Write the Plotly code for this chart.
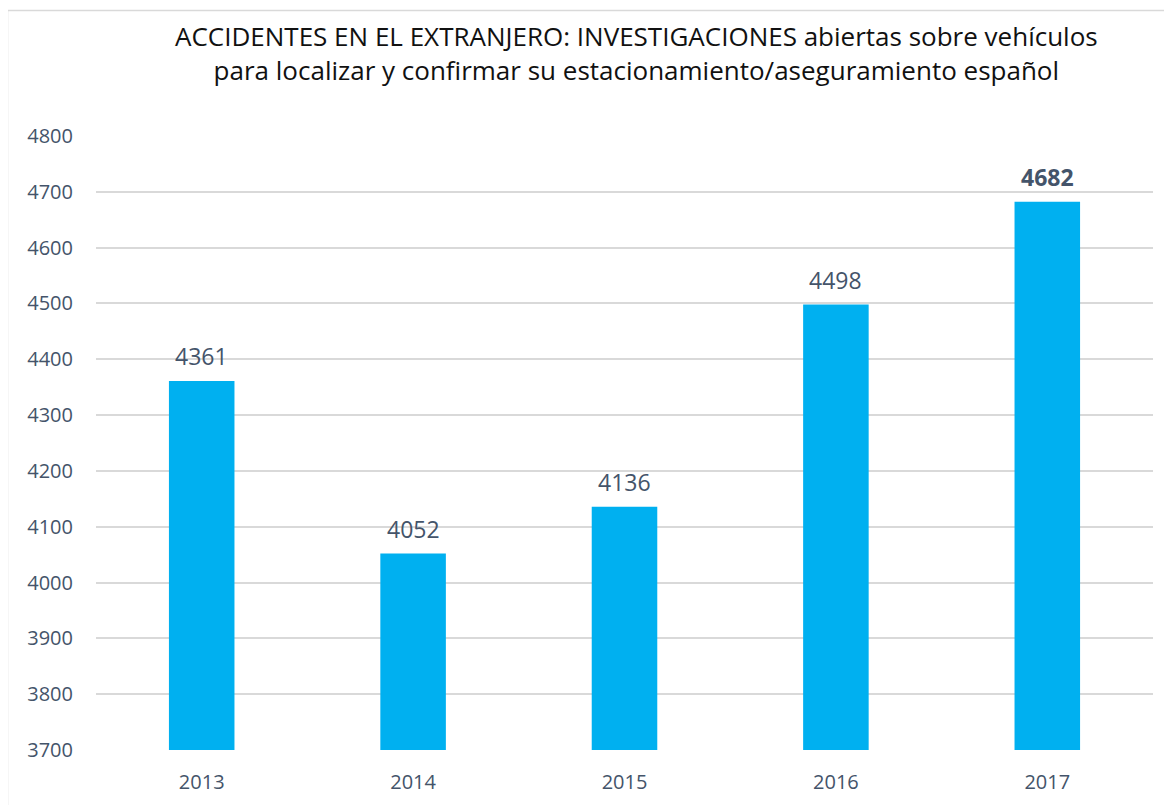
import plotly.graph_objects as go

years = ["2013", "2014", "2015", "2016", "2017"]
values = [4361, 4052, 4136, 4498, 4682]
label_texts = ["4361", "4052", "4136", "4498", "<b>4682</b>"]
title_lines = ["ACCIDENTES EN EL EXTRANJERO: INVESTIGACIONES abiertas sobre vehículos",
               "para localizar y confirmar su estacionamiento/aseguramiento español"]

OFF = 8  # page body margin
W, H = 1172, 805
pw, ph = 1057, 614
L, T = 96 - OFF, 136 - OFF
R, B = W - L - pw, H - T - ph
font = "Open Sans"
txtcol = "#44546A"

fig = go.Figure()
fig.add_trace(go.Bar(
    x=years, y=values, marker_color="#00B0F0", marker_line_width=0,
))

def px_x(p):
    return (p - OFF - L) / pw

def px_y(p):
    return (H - B - (p - OFF)) / ph

annotations = [
    dict(text=title_lines[0] + "<br>" + title_lines[1], xref="paper", yref="paper",
         x=px_x(636), y=px_y(52.5), xanchor="center", yanchor="middle", showarrow=False,
         font=dict(family=font, size=26, color="#111111"), align="center"),
]
for i, (v, t) in enumerate(zip(values, label_texts)):
    annotations.append(dict(x=i, y=v, xref="x", yref="y", text=t, showarrow=False,
                            xanchor="center", yanchor="middle", yshift=25,
                            font=dict(family=font, size=23, color=txtcol)))

fig.update_layout(
    width=W, height=H,
    margin=dict(l=L, r=R, t=T, b=B),
    paper_bgcolor="white", plot_bgcolor="white",
    bargap=0.69,
    showlegend=False,
    xaxis=dict(type="category", range=[-0.5, len(years) - 0.5], showgrid=False,
               showline=False, ticks="",
               tickfont=dict(family=font, size=20, color=txtcol), ticklabelstandoff=18),
    yaxis=dict(range=[3700, 4800], dtick=100, showgrid=True, gridcolor="#D9D9D9",
               gridwidth=1.5, zeroline=False, showline=False, ticks="",
               tickfont=dict(family=font, size=20, color=txtcol), ticklabelstandoff=22),
    annotations=annotations,
    shapes=[
        dict(type="rect", xref="paper", yref="paper",
             x0=px_x(7.5), x1=px_x(1190), y0=px_y(830), y1=px_y(10.5),
             line=dict(color="#D9D9D9", width=1.5), fillcolor="rgba(0,0,0,0)", layer="below"),
    ],
)

fig.write_html("out.html")
